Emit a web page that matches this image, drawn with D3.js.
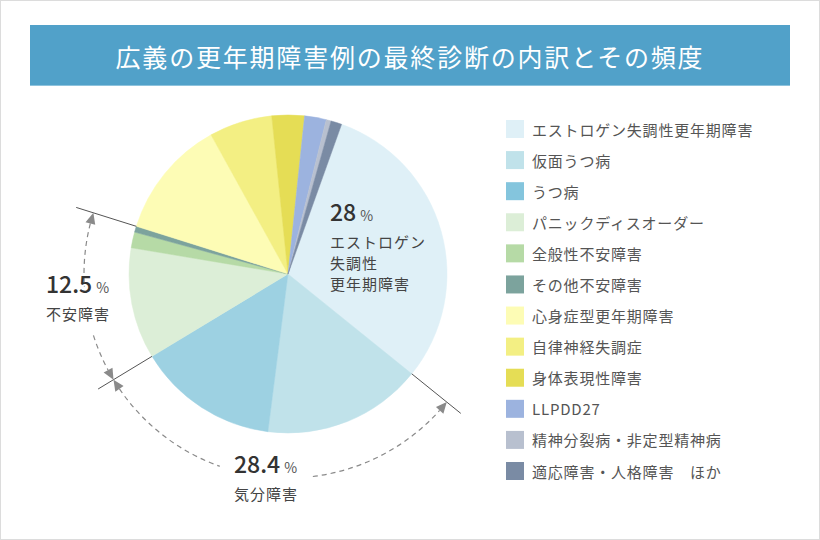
<!DOCTYPE html>
<html lang="ja">
<head>
<meta charset="utf-8">
<title>広義の更年期障害例の最終診断の内訳とその頻度</title>
<script src="https://d3js.org/d3.v7.min.js"></script>
<style>
  body { margin: 0; background: #fff; }
  svg { display: block; }
  text { font-family: "Noto Sans CJK JP", "Noto Sans", sans-serif; }
</style>
</head>
<body>
<svg width="820" height="540"></svg>
<script>
// data
const categories = ["エストロゲン失調性更年期障害", "仮面うつ病", "うつ病", "パニックディスオーダー",
  "全般性不安障害", "その他不安障害", "心身症型更年期障害", "自律神経失調症", "身体表現性障害",
  "LLPDD27", "精神分裂病・非定型精神病", "適応障害・人格障害　ほか"];
const values = [30.3, 16.2, 14.3, 11.3, 1.6, 0.6, 12.1, 6.4, 3.3, 2.2, 0.5, 1.1];
const groupPercents = ["28", "28.4", "12.5"];
const groupNames = [["エストロゲン", "失調性", "更年期障害"], ["気分障害"], ["不安障害"]];

const colors = ["#dff0f7", "#c0e2ea", "#9dd1e2", "#dceed7", "#b6daa6", "#7ca39d",
  "#fdfcb5", "#f3ef83", "#e5dd55", "#9cb3df", "#b8c0cf", "#7a8ba4"];
const swatchColors = colors.slice();
swatchColors[2] = "#84c5dd";

const W = 820, H = 540;
const cx = 288, cy = 274, R = 159;
const rArc = 204, rLine = 222;
const deg = Math.PI / 180;

const svg = d3.select("svg");

// frame
svg.append("rect")
  .attr("x", 0.5).attr("y", 0.5)
  .attr("width", W - 1).attr("height", H - 1)
  .attr("fill", "#fff").attr("stroke", "#dcdcdc");

// title band
svg.append("rect")
  .attr("x", 30).attr("y", 25)
  .attr("width", 760).attr("height", 61)
  .attr("fill", "#51a1c9");
svg.append("line")
  .attr("x1", 30).attr("x2", 790).attr("y1", 85.5).attr("y2", 85.5)
  .attr("stroke", "#8ec3dd");
svg.append("text")
  .attr("x", 410).attr("y", 56)
  .attr("text-anchor", "middle")
  .attr("dominant-baseline", "central")
  .attr("fill", "#fff")
  .attr("font-size", "25px")
  .attr("letter-spacing", "1.8px")
  .text("広義の更年期障害例の最終診断の内訳とその頻度");

// pie
const pie = d3.pie().sort(null).value(d => d)
  .startAngle(19.7 * deg).endAngle(19.7 * deg + 2 * Math.PI);
const arcs = pie(values);
const arcGen = d3.arc().innerRadius(0).outerRadius(R);

const g = svg.append("g").attr("transform", `translate(${cx},${cy})`);
g.selectAll("path.slice")
  .data(arcs)
  .join("path")
  .attr("class", "slice")
  .attr("d", arcGen)
  .attr("fill", (d, i) => colors[i])
  .attr("stroke", (d, i) => colors[i])
  .attr("stroke-width", 0.5);

// helpers, angle measured clockwise from 12 o'clock
const px = (r, a) => r * Math.sin(a);
const py = (r, a) => -r * Math.cos(a);

// group boundaries: before 仮面うつ病, before パニック, after その他不安障害
const bMood = arcs[1].startAngle;
const bAnx = arcs[3].startAngle;
const bEnd = arcs[5].endAngle;

[bMood, bAnx, bEnd].forEach(a => {
  g.append("line")
    .attr("x1", px(R, a)).attr("y1", py(R, a))
    .attr("x2", px(rLine, a)).attr("y2", py(rLine, a))
    .attr("stroke", "#555").attr("stroke-width", 1);
});

// dashed arcs with arrowheads
const headLen = 11, headHalf = 5;
const dA = headLen / rArc;

function dashed(a0, a1) {
  const p = d3.path();
  p.moveTo(px(rArc, a0), py(rArc, a0));
  p.arc(0, 0, rArc, a0 - Math.PI / 2, a1 - Math.PI / 2, a1 < a0);
  g.append("path")
    .attr("d", p.toString())
    .attr("fill", "none")
    .attr("stroke", "#8a8a8a")
    .attr("stroke-width", 1.2)
    .attr("stroke-dasharray", "5,4");
}

function head(tipA, dir) {
  // dir: +1 if the arrow points toward increasing angle
  const baseA = tipA - dir * dA;
  const pts = [
    [px(rArc, tipA), py(rArc, tipA)],
    [px(rArc - headHalf, baseA), py(rArc - headHalf, baseA)],
    [px(rArc + headHalf, baseA), py(rArc + headHalf, baseA)]
  ];
  g.append("path")
    .attr("d", "M" + pts.map(q => q.join(",")).join("L") + "Z")
    .attr("fill", "#8a8a8a");
}

// 不安障害
dashed(bEnd - dA, 266.5 * deg);
dashed(252.5 * deg, bAnx + dA);
head(bEnd, 1);
head(bAnx, -1);
// 気分障害
dashed(bAnx - dA, 199.5 * deg);
dashed(173 * deg, bMood + dA);
head(bAnx, 1);
head(bMood, -1);

// group labels
const labelPos = [[330, 221], [234, 473], [46, 293]];
labelPos.forEach((p, i) => {
  const t = svg.append("text")
    .attr("x", p[0]).attr("y", p[1])
    .attr("fill", "#333");
  t.append("tspan")
    .attr("font-size", "23px")
    .attr("font-weight", 500)
    .text(groupPercents[i]);
  t.append("tspan")
    .attr("dx", 4)
    .attr("font-size", "14px")
    .attr("fill", "#555")
    .text("%");
  groupNames[i].forEach((line, j) => {
    svg.append("text")
      .attr("x", p[0]).attr("y", p[1] + 20 + j * 21)
      .attr("dominant-baseline", "central")
      .attr("font-size", "15px")
      .attr("letter-spacing", "1px")
      .attr("fill", "#444")
      .text(line);
  });
});

// legend
const legendY = d3.scaleLinear().domain([0, categories.length - 1]).range([129, 471]);
const legend = svg.append("g");
const rows = legend.selectAll("g")
  .data(categories)
  .join("g")
  .attr("transform", (d, i) => `translate(506,${legendY(i)})`);
rows.append("rect")
  .attr("x", 0).attr("y", -9)
  .attr("width", 18).attr("height", 18)
  .attr("fill", (d, i) => swatchColors[i]);
rows.append("text")
  .attr("x", 26).attr("y", 0)
  .attr("dominant-baseline", "central")
  .attr("font-size", "15px")
  .attr("letter-spacing", "0.8px")
  .attr("fill", "#555")
  .text(d => d);
</script>
</body>
</html>
